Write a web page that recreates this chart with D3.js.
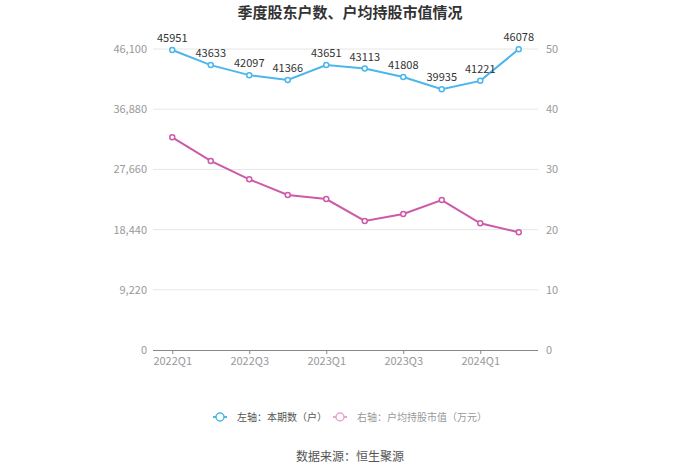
<!DOCTYPE html>
<html><head><meta charset="utf-8">
<script src="https://cdn.jsdelivr.net/npm/d3@7/dist/d3.min.js"></script>
<style>body{margin:0;background:#fff;font-family:"Microsoft YaHei","Noto Sans CJK SC",sans-serif;}</style>
</head><body><svg id="c" width="700" height="474"></svg>
<script>
const categories = ["2022Q1","2022Q2","2022Q3","2022Q4","2023Q1","2023Q2","2023Q3","2023Q4","2024Q1","2024Q2"];
const holders = [45951,43633,42097,41366,43651,43113,41808,39935,41221,46078];
const avgValue = [35.33,31.4,28.35,25.75,25.08,21.43,22.6,24.9,21.05,19.55];
const leftTicks = [0,9220,18440,27660,36880,46100];
const rightTicks = [0,10,20,30,40,50];
const xTickLabels = ["2022Q1","2022Q3","2023Q1","2023Q3","2024Q1"];
const title = "季度股东户数、户均持股市值情况";
const legendLabels = ["左轴：本期数（户）","右轴：户均持股市值（万元）"];
const source = "数据来源：恒生聚源";

const blue = "#4cb6ea", pink = "#cc5aa8";
const svg = d3.select("#c");
const L = 153, R = 538, T = 49, B = 350;
const font = '"Microsoft YaHei","Noto Sans CJK SC",sans-serif';

const x = d3.scalePoint().domain(categories).range([L, R]).padding(0.5);
const yL = d3.scaleLinear().domain([0, 46100]).range([B, T]);
const yR = d3.scaleLinear().domain([0, 50]).range([B, T]);

svg.append("text").attr("x", 350).attr("y", 18).attr("text-anchor","middle")
  .attr("font-size", 15).attr("font-weight","bold").attr("fill","#333").attr("font-family",font).text(title);

// grid
svg.append("g").selectAll("line").data(leftTicks.slice(1)).join("line")
  .attr("x1", L).attr("x2", R).attr("y1", d=>yL(d)).attr("y2", d=>yL(d))
  .attr("stroke","#e6e6e6").attr("stroke-width",1);

// left axis
const gl = svg.append("g").attr("transform",`translate(${L},0)`)
  .call(d3.axisLeft(yL).tickValues(leftTicks).tickFormat(d3.format(",")).tickSize(0).tickPadding(6));
gl.select(".domain").remove();
gl.selectAll("text").attr("fill","#999").attr("font-size",11).attr("font-family",font);

// right axis
const gr = svg.append("g").attr("transform",`translate(${R},0)`)
  .call(d3.axisRight(yR).tickValues(rightTicks).tickSize(0).tickPadding(8));
gr.select(".domain").remove();
gr.selectAll("text").attr("fill","#999").attr("font-size",11).attr("font-family",font);

// bottom axis
const gb = svg.append("g").attr("transform",`translate(0,${B})`)
  .call(d3.axisBottom(x).tickValues(xTickLabels).tickSize(4).tickPadding(3));
gb.select(".domain").attr("stroke","#888").attr("d",`M${L},0.5H${R}`);
gb.selectAll(".tick line").attr("stroke","#888");
gb.selectAll("text").attr("fill","#999").attr("font-size",11).attr("font-family",font);

// lines
function drawSeries(vals, yS, color){
  const line = d3.line().x((d,i)=>x(categories[i])).y(d=>yS(d));
  svg.append("path").datum(vals).attr("d", line).attr("fill","none").attr("stroke",color).attr("stroke-width",2);
  svg.append("g").selectAll("circle").data(vals).join("circle")
    .attr("cx",(d,i)=>x(categories[i])).attr("cy",d=>yS(d)).attr("r",2.5)
    .attr("fill","#fff").attr("stroke",color).attr("stroke-width",1.5);
}
drawSeries(avgValue, yR, pink);
drawSeries(holders, yL, blue);

svg.append("g").selectAll("text").data(holders).join("text")
  .attr("x",(d,i)=>x(categories[i])).attr("y",d=>yL(d)-8).attr("text-anchor","middle")
  .attr("font-size",11).attr("fill","#333").attr("font-family",font).text(d=>d);

// legend
const leg = [{c:blue, t:legendLabels[0], x:213, tc:"#555"},{c:"#e6a6cf", t:legendLabels[1], x:333, tc:"#999"}];
const lg = svg.append("g").selectAll("g").data(leg).join("g").attr("transform",d=>`translate(${d.x},417)`);
lg.append("line").attr("x1",0).attr("x2",14).attr("stroke",d=>d.c).attr("stroke-width",2);
lg.append("circle").attr("cx",7).attr("r",4).attr("fill","#fff").attr("stroke",d=>d.c).attr("stroke-width",1.5);
lg.append("text").attr("x",24).attr("y",4).attr("font-size",10).attr("fill",d=>d.tc).attr("font-family",font).text(d=>d.t);

svg.append("text").attr("x",350).attr("y",461).attr("text-anchor","middle")
  .attr("font-size",12).attr("fill","#555").attr("font-family",font).text(source);
</script></body></html>
